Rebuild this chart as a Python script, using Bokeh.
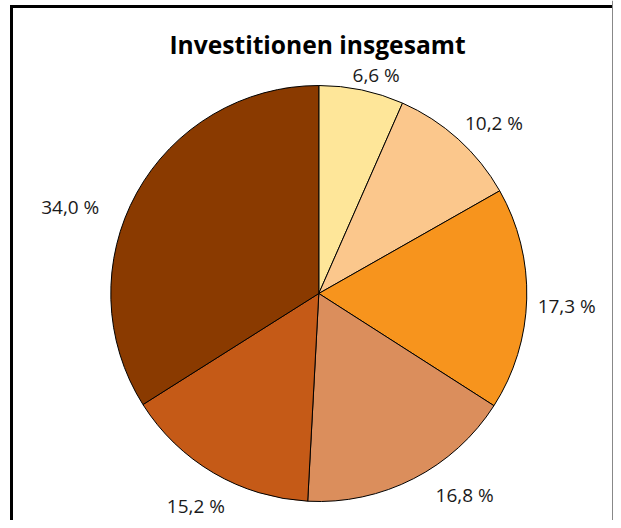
import math
from bokeh.plotting import figure
from bokeh.models import Range1d, ColumnDataSource, Span, BoxAnnotation
from bokeh.core.properties import value
from bokeh.embed import file_html
from bokeh.resources import INLINE

# ---- data ----
title_text = "Investitionen insgesamt"
shares = [6.6, 10.2, 17.3, 16.8, 15.2, 34.0]
labels = ["6,6 %", "10,2 %", "17,3 %", "16,8 %", "15,2 %", "34,0 %"]
colors = ["#FEE699", "#FBC78C", "#F7941D", "#DB8E5C", "#C55A17", "#8A3A00"]

# ---- layout (screen px; y down) ----
W, H = 613, 520
cx, cy, R = 318.3, 293.0, 208.0
label_r = 245.0
label_nudge = [(7, 21), (11, 11), (3, 6), (34, -16), (1, 1), (-34, 32)]

total = sum(shares)
starts, ends, lx, ly = [], [], [], []
cum = 0.0
for i, s in enumerate(shares):
    a0 = cum / total * 2 * math.pi
    cum += s
    a1 = cum / total * 2 * math.pi
    # clockwise from top -> bokeh anticlockwise angles
    starts.append(math.pi / 2 - a1)
    ends.append(math.pi / 2 - a0)
    mid = (a0 + a1) / 2
    sx = cx + label_r * math.sin(mid) + label_nudge[i][0]
    sy = cy - label_r * math.cos(mid) + label_nudge[i][1]
    lx.append(sx)
    ly.append(-sy)

src = ColumnDataSource(dict(start=starts, end=ends, color=colors,
                            x=[cx] * len(shares), y=[-cy] * len(shares)))
lsrc = ColumnDataSource(dict(x=lx, y=ly, text=labels))

p = figure(width=W, height=H, output_backend="svg", toolbar_location=None,
           x_range=Range1d(0, W), y_range=Range1d(-H, 0),
           x_axis_type=None, y_axis_type=None, min_border=0)
p.grid.visible = False
p.background_fill_color = "white"
p.border_fill_color = "white"
p.outline_line_color = None

# frame border: black top/left bars, thin grey right edge (bottom runs off the page)
p.add_layout(BoxAnnotation(left=9.5, right=W + 20, top=-4.5, bottom=-7.5,
                           fill_color="black", fill_alpha=1.0, line_color=None))
p.add_layout(BoxAnnotation(left=9.5, right=12.5, top=-4.5, bottom=-(H + 40),
                           fill_color="black", fill_alpha=1.0, line_color=None))
p.add_layout(Span(location=W - 1, dimension="height", line_color="#888888", line_width=1))

p.wedge(x="x", y="y", radius=R, start_angle="start", end_angle="end",
        direction="anticlock", fill_color="color", line_color="black",
        line_width=1, source=src)

p.text(x="x", y="y", text="text", source=lsrc, text_align="center",
       text_baseline="middle", text_font=value("Open Sans"),
       text_font_size="19px", text_color="#1a1a1a")

p.text(x=[317], y=[-44], text=[title_text], text_align="center",
       text_baseline="alphabetic", text_font=value("Open Sans"),
       text_font_style="bold", text_font_size="24.6px", text_color="black")

open("out.html", "w").write(file_html(p, INLINE))
